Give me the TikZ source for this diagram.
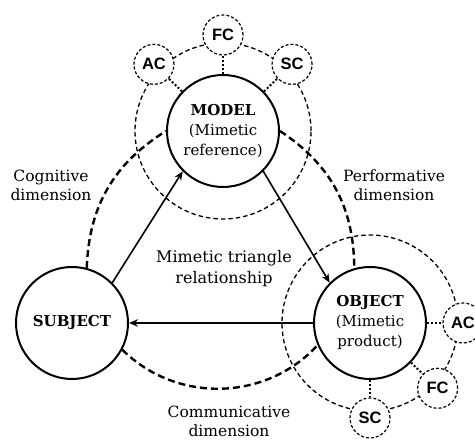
\documentclass[tikz,border=0pt]{standalone}
\usepackage{fontspec}
\setmainfont{DejaVu Serif}
\newfontfamily\satfont{Liberation Sans}
\usetikzlibrary{arrows.meta,calc}
\begin{document}
\begin{tikzpicture}[x=1pt,y=1pt,
  mainnode/.style={circle, draw, line width=2pt, fill=white, minimum size=112pt,
    inner sep=0pt, align=center, font=\fontsize{15}{20}\selectfont},
  orbit/.style={draw, line width=1.3pt, dash pattern=on 4.5pt off 3pt},
  satnode/.style={circle, draw, fill=white, line width=1.2pt,
    dash pattern=on 3pt off 2pt, minimum size=40pt, inner sep=0pt,
    font=\satfont\bfseries\fontsize{16.5}{16.5}\selectfont},
  link/.style={line width=2pt, dash pattern=on 2pt off 2pt},
  dimline/.style={line width=2.4pt, dash pattern=on 7pt off 4pt},
  flow/.style={line width=1.6pt, -{Stealth[length=9pt,width=7.5pt]}},
  dimtext/.style={align=center, font=\fontsize{15.5}{19}\selectfont},
]
\useasboundingbox (0,0) rectangle (475,441);

% dashed orbits of the communication channels
\draw[orbit] (223,310) circle (88);
\draw[orbit] (370,118) circle (88);

% the three poles of the triangle
\node[mainnode] (model)   at (223,310) {\textbf{MODEL}\\(Mimetic\\reference)};
\node[mainnode] (subject) at (72,118)  {\textbf{SUBJECT}};
\node[mainnode] (object)  at (370,118) {\textbf{OBJECT}\\(Mimetic\\product)};

% channel satellites around the model
\node[satnode] (mfc) at ($(223,310)+(90:96)$)  {FC};
\node[satnode] (mac) at ($(223,310)+(136:96)$) {AC};
\node[satnode] (msc) at ($(223,310)+(44:96)$)  {SC};

% channel satellites around the object
\node[satnode] (oac) at ($(370,118)+(0:93)$)   {AC};
\node[satnode] (ofc) at ($(370,118)+(-44:94)$) {FC};
\node[satnode] (osc) at ($(370,118)+(-90:95)$) {SC};

% dotted ties between poles and satellites
\draw[link] (model) -- (mfc);
\draw[link] (model) -- (mac);
\draw[link] (model) -- (msc);
\draw[link] (object) -- (oac);
\draw[link] (object) -- (ofc);
\draw[link] (object) -- (osc);

% dimensions
\draw[dimline] (subject.75) to[bend left=28] (model.180);
\draw[dimline] (model.0) to[bend left=28] (object.106);
\draw[dimline] (subject.-28) to[bend right=46] (object.203);

% mimetic flow
\draw[flow] (subject.45) -- (model.225);
\draw[flow] (model.-45) -- (object.135);
\draw[flow] (object) -- (subject);

% labels
\node[dimtext] (cog)  at (51,256)  {Cognitive\\dimension};
\node[dimtext] (perf) at (394,256) {Performative\\dimension};
\node[dimtext] (comm) at (229,20)  {Communicative\\dimension};
\node[align=center, font=\fontsize{16}{21}\selectfont] (tri) at (224,172)
  {Mimetic triangle\\relationship};
\end{tikzpicture}
\end{document}
